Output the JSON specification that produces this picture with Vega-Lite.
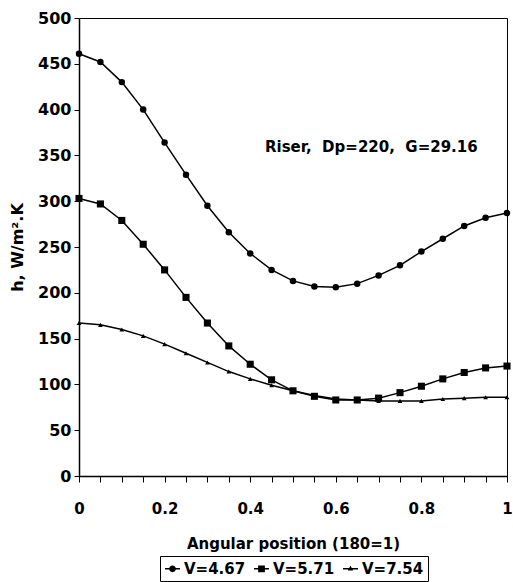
{
  "$schema": "https://vega.github.io/schema/vega-lite/v6.json",
  "width": 428,
  "height": 458,
  "autosize": "none",
  "padding": {"left": 79, "top": 18, "right": 6, "bottom": 106},
  "background": "white",
  "config": {
    "view": {"stroke": "black", "strokeWidth": 1},
    "font": "DejaVu Sans",
    "axis": {"grid": false, "domainColor": "black", "tickColor": "black", "labelColor": "black", "titleColor": "black", "labelFont": "DejaVu Sans", "titleFont": "DejaVu Sans", "labelFontWeight": "bold", "titleFontWeight": "bold", "domainWidth": 1.5, "tickWidth": 1}
  },
  "data": {
    "values": [
      {"x": 0, "h": 461, "s": "V=4.67"}, {"x": 0.05, "h": 452, "s": "V=4.67"}, {"x": 0.1, "h": 430, "s": "V=4.67"}, {"x": 0.15, "h": 400, "s": "V=4.67"}, {"x": 0.2, "h": 364, "s": "V=4.67"}, {"x": 0.25, "h": 329, "s": "V=4.67"}, {"x": 0.3, "h": 295, "s": "V=4.67"}, {"x": 0.35, "h": 266, "s": "V=4.67"}, {"x": 0.4, "h": 243, "s": "V=4.67"}, {"x": 0.45, "h": 225, "s": "V=4.67"}, {"x": 0.5, "h": 213, "s": "V=4.67"}, {"x": 0.55, "h": 207, "s": "V=4.67"}, {"x": 0.6, "h": 206, "s": "V=4.67"}, {"x": 0.65, "h": 210, "s": "V=4.67"}, {"x": 0.7, "h": 219, "s": "V=4.67"}, {"x": 0.75, "h": 230, "s": "V=4.67"}, {"x": 0.8, "h": 245, "s": "V=4.67"}, {"x": 0.85, "h": 259, "s": "V=4.67"}, {"x": 0.9, "h": 273, "s": "V=4.67"}, {"x": 0.95, "h": 282, "s": "V=4.67"}, {"x": 1, "h": 287, "s": "V=4.67"},
      {"x": 0, "h": 303, "s": "V=5.71"}, {"x": 0.05, "h": 297, "s": "V=5.71"}, {"x": 0.1, "h": 279, "s": "V=5.71"}, {"x": 0.15, "h": 253, "s": "V=5.71"}, {"x": 0.2, "h": 225, "s": "V=5.71"}, {"x": 0.25, "h": 195, "s": "V=5.71"}, {"x": 0.3, "h": 167, "s": "V=5.71"}, {"x": 0.35, "h": 142, "s": "V=5.71"}, {"x": 0.4, "h": 122, "s": "V=5.71"}, {"x": 0.45, "h": 105, "s": "V=5.71"}, {"x": 0.5, "h": 93, "s": "V=5.71"}, {"x": 0.55, "h": 87, "s": "V=5.71"}, {"x": 0.6, "h": 83, "s": "V=5.71"}, {"x": 0.65, "h": 83, "s": "V=5.71"}, {"x": 0.7, "h": 85, "s": "V=5.71"}, {"x": 0.75, "h": 91, "s": "V=5.71"}, {"x": 0.8, "h": 98, "s": "V=5.71"}, {"x": 0.85, "h": 106, "s": "V=5.71"}, {"x": 0.9, "h": 113, "s": "V=5.71"}, {"x": 0.95, "h": 118, "s": "V=5.71"}, {"x": 1, "h": 120, "s": "V=5.71"},
      {"x": 0, "h": 167, "s": "V=7.54"}, {"x": 0.05, "h": 165, "s": "V=7.54"}, {"x": 0.1, "h": 160, "s": "V=7.54"}, {"x": 0.15, "h": 153, "s": "V=7.54"}, {"x": 0.2, "h": 144, "s": "V=7.54"}, {"x": 0.25, "h": 134, "s": "V=7.54"}, {"x": 0.3, "h": 124, "s": "V=7.54"}, {"x": 0.35, "h": 114, "s": "V=7.54"}, {"x": 0.4, "h": 106, "s": "V=7.54"}, {"x": 0.45, "h": 99, "s": "V=7.54"}, {"x": 0.5, "h": 93, "s": "V=7.54"}, {"x": 0.55, "h": 88, "s": "V=7.54"}, {"x": 0.6, "h": 84, "s": "V=7.54"}, {"x": 0.65, "h": 83, "s": "V=7.54"}, {"x": 0.7, "h": 82, "s": "V=7.54"}, {"x": 0.75, "h": 82, "s": "V=7.54"}, {"x": 0.8, "h": 82, "s": "V=7.54"}, {"x": 0.85, "h": 84, "s": "V=7.54"}, {"x": 0.9, "h": 85, "s": "V=7.54"}, {"x": 0.95, "h": 86, "s": "V=7.54"}, {"x": 1, "h": 86, "s": "V=7.54"}
    ]
  },
  "encoding": {
    "x": {
      "field": "x", "type": "quantitative",
      "scale": {"domain": [0, 1], "nice": false, "zero": false},
      "axis": {
        "title": "Angular position (180=1)",
        "values": [0, 0.05, 0.1, 0.15, 0.2, 0.25, 0.3, 0.35, 0.4, 0.45, 0.5, 0.55, 0.6, 0.65, 0.7, 0.75, 0.8, 0.85, 0.9, 0.95, 1],
        "format": "~g",
        "labelExpr": "abs(datum.value * 5 - round(datum.value * 5)) < 0.001 ? datum.label : ''",
        "labelFontSize": 15, "titleFontSize": 15,
        "tickSize": 6, "labelPadding": 19, "titlePadding": 20,
        "labelFlush": false, "labelOverlap": false
      }
    },
    "y": {
      "field": "h", "type": "quantitative",
      "scale": {"domain": [0, 500], "nice": false},
      "axis": {
        "title": "h, W/m².K",
        "values": [0, 50, 100, 150, 200, 250, 300, 350, 400, 450, 500],
        "labelFontSize": 16, "titleFontSize": 16,
        "tickSize": 5, "labelPadding": 3, "titlePadding": 12,
        "labelFlush": false, "labelOverlap": false
      }
    }
  },
  "layer": [
    {
      "mark": {"type": "line", "color": "black", "strokeWidth": 1.5},
      "encoding": {"detail": {"field": "s"}}
    },
    {
      "transform": [{"filter": "datum.s === 'V=4.67'"}],
      "mark": {"type": "point", "shape": "circle", "filled": true, "color": "black", "opacity": 1, "size": 42}
    },
    {
      "transform": [{"filter": "datum.s === 'V=5.71'"}],
      "mark": {"type": "point", "shape": "square", "filled": true, "color": "black", "opacity": 1, "size": 50}
    },
    {
      "transform": [{"filter": "datum.s === 'V=7.54'"}],
      "mark": {"type": "point", "shape": "triangle-up", "filled": true, "color": "black", "opacity": 1, "size": 22}
    },
    {
      "transform": [{"filter": "false"}],
      "mark": {"type": "point", "filled": true, "color": "black", "opacity": 1, "size": 225},
      "encoding": {
        "shape": {
          "field": "s", "type": "nominal",
          "scale": {
            "domain": ["V=4.67", "V=5.71", "V=7.54"],
            "range": [
              "M-1,-0.1H1V0.1H-1Z M0.45,0A0.45,0.45,0,1,1,-0.45,0A0.45,0.45,0,1,1,0.45,0Z",
              "M-1,-0.1H1V0.1H-1Z M-0.45,-0.45H0.45V0.45H-0.45Z",
              "M-1,-0.1H1V0.1H-1Z M0,-0.4L0.36,0.24H-0.36Z"
            ]
          },
          "legend": {
            "title": null,
            "orient": "none",
            "direction": "horizontal",
            "legendX": 81,
            "legendY": 538,
            "strokeColor": "black",
            "padding": 4,
            "labelFont": "DejaVu Sans",
            "labelFontWeight": "bold",
            "labelFontSize": 15,
            "labelColor": "black",
            "labelOffset": 3,
            "columnPadding": 5,
            "symbolSize": 225,
            "symbolFillColor": "black",
            "symbolOpacity": 1
          }
        }
      }
    },
    {
      "data": {"values": [{"x": 0.683, "h": 359, "label": "Riser,\u00a0 Dp=220,\u00a0 G=29.16"}]},
      "mark": {"type": "text", "font": "DejaVu Sans", "fontWeight": "bold", "fontSize": 15, "color": "black", "align": "center", "baseline": "middle"},
      "encoding": {"text": {"field": "label"}}
    }
  ]
}
